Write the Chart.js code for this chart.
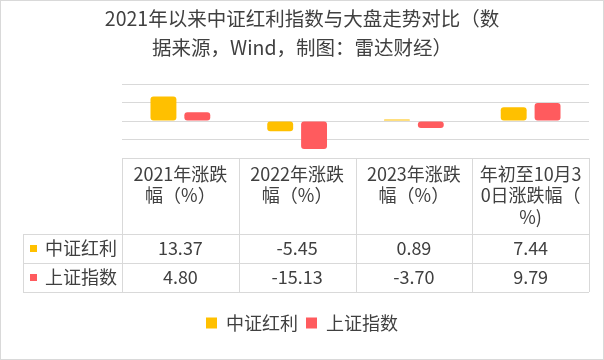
<!DOCTYPE html>
<html>
<head>
<meta charset="utf-8">
<script src="https://cdn.jsdelivr.net/npm/chart.js@4.4.0/dist/chart.umd.min.js"></script>
<style>
html,body{margin:0;padding:0;background:#fff;}
#wrap{width:604px;height:360px;position:relative;}
</style>
</head>
<body>
<div id="wrap"><canvas id="c" width="604" height="360"></canvas></div>
<script>
const titleLines = ["2021年以来中证红利指数与大盘走势对比（数", "据来源，Wind，制图：雷达财经）"];
const categories = [
  ["2021年涨跌", "幅（%）"],
  ["2022年涨跌", "幅（%）"],
  ["2023年涨跌", "幅（%）"],
  ["年初至10月3", "0日涨跌幅（", "%)"]
];
const seriesNames = ["中证红利", "上证指数"];
const zzhlValues = [13.37, -5.45, 0.89, 7.44];
const szzsValues = [4.80, -15.13, -3.70, 9.79];
const yTicks = [-20, -10, 0, 10, 20];
const colors = ["#FFC000", "#FF5B5E"];

const FONT = "'Noto Sans CJK SC', 'Noto Sans', sans-serif";
const TEXT = "#404040";
const LINE = "#d9d9d9";

const tablePlugin = {
  id: 'dataTable',
  afterDraw(chart) {
    const ctx = chart.ctx;
    const xs = chart.scales.x;
    const ca = chart.chartArea;
    const n = categories.length;
    const cw = (xs.right - xs.left) / n;
    const top = ca.bottom;
    const headBottom = top + 76;
    const row1 = headBottom + 29;
    const row2 = row1 + 29;
    const tableLeft = 23;
    ctx.save();
    ctx.strokeStyle = LINE;
    ctx.lineWidth = 1;
    ctx.beginPath();
    ctx.moveTo(xs.left, top + 0.5); ctx.lineTo(xs.right, top + 0.5);
    [headBottom, row1, row2].forEach(y => { ctx.moveTo(tableLeft, y + 0.5); ctx.lineTo(xs.right, y + 0.5); });
    for (let i = 0; i <= n; i++) {
      const x = Math.round(xs.left + i * cw) + 0.5;
      ctx.moveTo(x, top); ctx.lineTo(x, row2);
    }
    ctx.moveTo(tableLeft + 0.5, headBottom); ctx.lineTo(tableLeft + 0.5, row2);
    ctx.stroke();

    ctx.fillStyle = TEXT;
    ctx.font = "18px " + FONT;
    ctx.textAlign = "center";
    ctx.textBaseline = "middle";
    categories.forEach((lines, i) => {
      const cx = xs.getPixelForValue(i);
      lines.forEach((ln, j) => ctx.fillText(ln, cx, top + 16 + j * 21.5));
    });
    const rows = [zzhlValues, szzsValues];
    const rowY = [headBottom + 14.5, row1 + 14.5];
    rows.forEach((vals, r) => {
      vals.forEach((v, i) => {
        ctx.fillStyle = TEXT;
        ctx.fillText(v.toFixed(2), xs.getPixelForValue(i), rowY[r]);
      });
      ctx.fillStyle = colors[r];
      ctx.fillRect(30, rowY[r] - 3.5, 7, 7);
      ctx.fillStyle = TEXT;
      ctx.textAlign = "left";
      ctx.fillText(seriesNames[r], 45, rowY[r]);
      ctx.textAlign = "center";
    });
    ctx.strokeStyle = LINE;
    ctx.strokeRect(0.5, 0.5, chart.width - 1, chart.height - 1);
    ctx.restore();
  }
};

new Chart(document.getElementById('c'), {
  type: 'bar',
  data: {
    labels: categories,
    datasets: [
      { label: seriesNames[0], data: zzhlValues, backgroundColor: colors[0], borderRadius: 3, borderSkipped: false,
        categoryPercentage: 0.58, barPercentage: 0.765 },
      { label: seriesNames[1], data: szzsValues, backgroundColor: colors[1], borderRadius: 3, borderSkipped: false,
        categoryPercentage: 0.58, barPercentage: 0.765 }
    ]
  },
  options: {
    responsive: false,
    animation: false,
    layout: { padding: { left: 0, right: 0, top: 5, bottom: 18 } },
    plugins: {
      title: {
        display: true, text: titleLines, color: TEXT,
        font: { family: FONT, size: 19.5, weight: 'normal', lineHeight: 1.44 },
        padding: { top: 0, bottom: 23 }
      },
      legend: {
        position: 'bottom',
        labels: { color: TEXT, font: { family: FONT, size: 18 }, boxWidth: 11, boxHeight: 11, padding: 8 }
      },
      tooltip: { enabled: false }
    },
    scales: {
      x: {
        ticks: { display: false },
        grid: { display: false, drawTicks: false },
        border: { display: false },
        afterFit(scale) { scale.height = 148; }
      },
      y: {
        min: yTicks[0], max: yTicks[yTicks.length - 1],
        afterBuildTicks(scale) { scale.ticks = yTicks.map(v => ({ value: v })); },
        ticks: { display: false },
        grid: { color: LINE, drawTicks: false },
        border: { display: false },
        afterFit(scale) { scale.width = 122; }
      },
      y2: {
        position: 'right',
        ticks: { display: false },
        grid: { display: false, drawTicks: false },
        border: { display: false },
        afterFit(scale) { scale.width = 15; }
      }
    }
  },
  plugins: [tablePlugin]
});
</script>
</body>
</html>
